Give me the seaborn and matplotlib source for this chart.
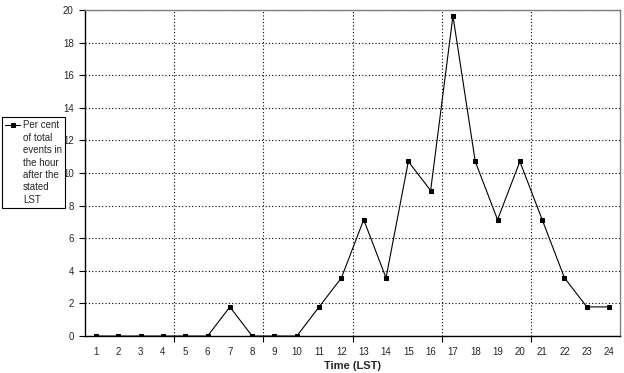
import matplotlib
matplotlib.use("Agg")
import matplotlib.pyplot as plt
import seaborn as sns
import pandas as pd
from matplotlib.legend_handler import HandlerLine2D
from matplotlib.transforms import Affine2D

# Data: per cent of total events in the hour after the stated LST
hours = [str(h) for h in range(1, 25)]
percent = [0, 0, 0, 0, 0, 0, 1.79, 0, 0, 0, 1.79, 3.57,
           7.14, 3.57, 10.71, 8.93, 19.64, 10.71, 7.14, 10.71, 7.14, 3.57, 1.79, 1.79]
series_label = "Per cent\nof total\nevents in\nthe hour\nafter the\nstated\nLST"

df = pd.DataFrame({"pos": range(len(hours)), "percent": percent})


class TopHandler(HandlerLine2D):
    # put the legend line next to the first text line instead of the middle
    def create_artists(self, legend, orig_handle, xdescent, ydescent,
                       width, height, fontsize, trans):
        artists = super().create_artists(legend, orig_handle, xdescent, ydescent,
                                         width, height, fontsize, trans)
        shift = 3 * fontsize * 1.3
        for a in artists:
            a.set_transform(Affine2D().translate(0, shift) + trans)
        return artists


sns.set_style("white")
plt.rcParams["font.family"] = ["Liberation Sans", "DejaVu Sans"]

fig = plt.figure(figsize=(6.24, 3.73), dpi=100)
ax = fig.add_axes([0.136, 0.099, 0.858, 0.874])

sns.lineplot(data=df, x="pos", y="percent", ax=ax, color="black", linewidth=0.8,
             marker="s", markersize=3, markeredgecolor="black", label=series_label)

ax.set_xlim(-0.5, len(hours) - 0.5)
ax.set_ylim(0, 20)
ax.set_yticks(range(0, 21, 2))
ax.set_xticks(range(len(hours)))
ax.set_xticklabels(hours)
ax.set_xticks([3.5, 7.5, 11.5, 15.5, 19.5], minor=True)
ax.tick_params(axis="x", which="major", length=0, labelsize=7, pad=8)
ax.tick_params(axis="x", which="minor", length=4, direction="out", color="black", width=0.8)
ax.tick_params(axis="y", length=4, direction="out", color="black", width=0.8, labelsize=7, pad=4)
ax.xaxis.set_ticks_position("bottom")
ax.yaxis.set_ticks_position("left")

ax.grid(axis="y", which="major", linestyle=(0, (1, 2)), color="black", linewidth=0.8)
ax.grid(axis="x", which="minor", linestyle=(0, (1, 2)), color="black", linewidth=0.8)
ax.grid(axis="x", which="major", visible=False)

for side in ["left", "bottom"]:
    ax.spines[side].set_color("black")
    ax.spines[side].set_linewidth(1.0)
for side in ["top", "right"]:
    ax.spines[side].set_color("#808080")
    ax.spines[side].set_linewidth(1.0)

ax.set_xlabel("Time (LST)", fontsize=8, fontweight="bold", labelpad=3)
ax.set_ylabel("")

ax.legend_.remove()
handles, labels = ax.get_legend_handles_labels()
leg = fig.legend(handles, labels, loc="upper left", bbox_to_anchor=(0.003, 0.685),
                 frameon=True, fancybox=False, edgecolor="black", framealpha=1,
                 fontsize=7, handlelength=1.6, handletextpad=0.25, borderpad=0.3,
                 borderaxespad=0, handler_map={handles[0]: TopHandler()})
leg.get_frame().set_linewidth(0.8)
for t in leg.get_texts():
    t.set_linespacing(1.3)

fig.savefig("out.png", dpi=100)
